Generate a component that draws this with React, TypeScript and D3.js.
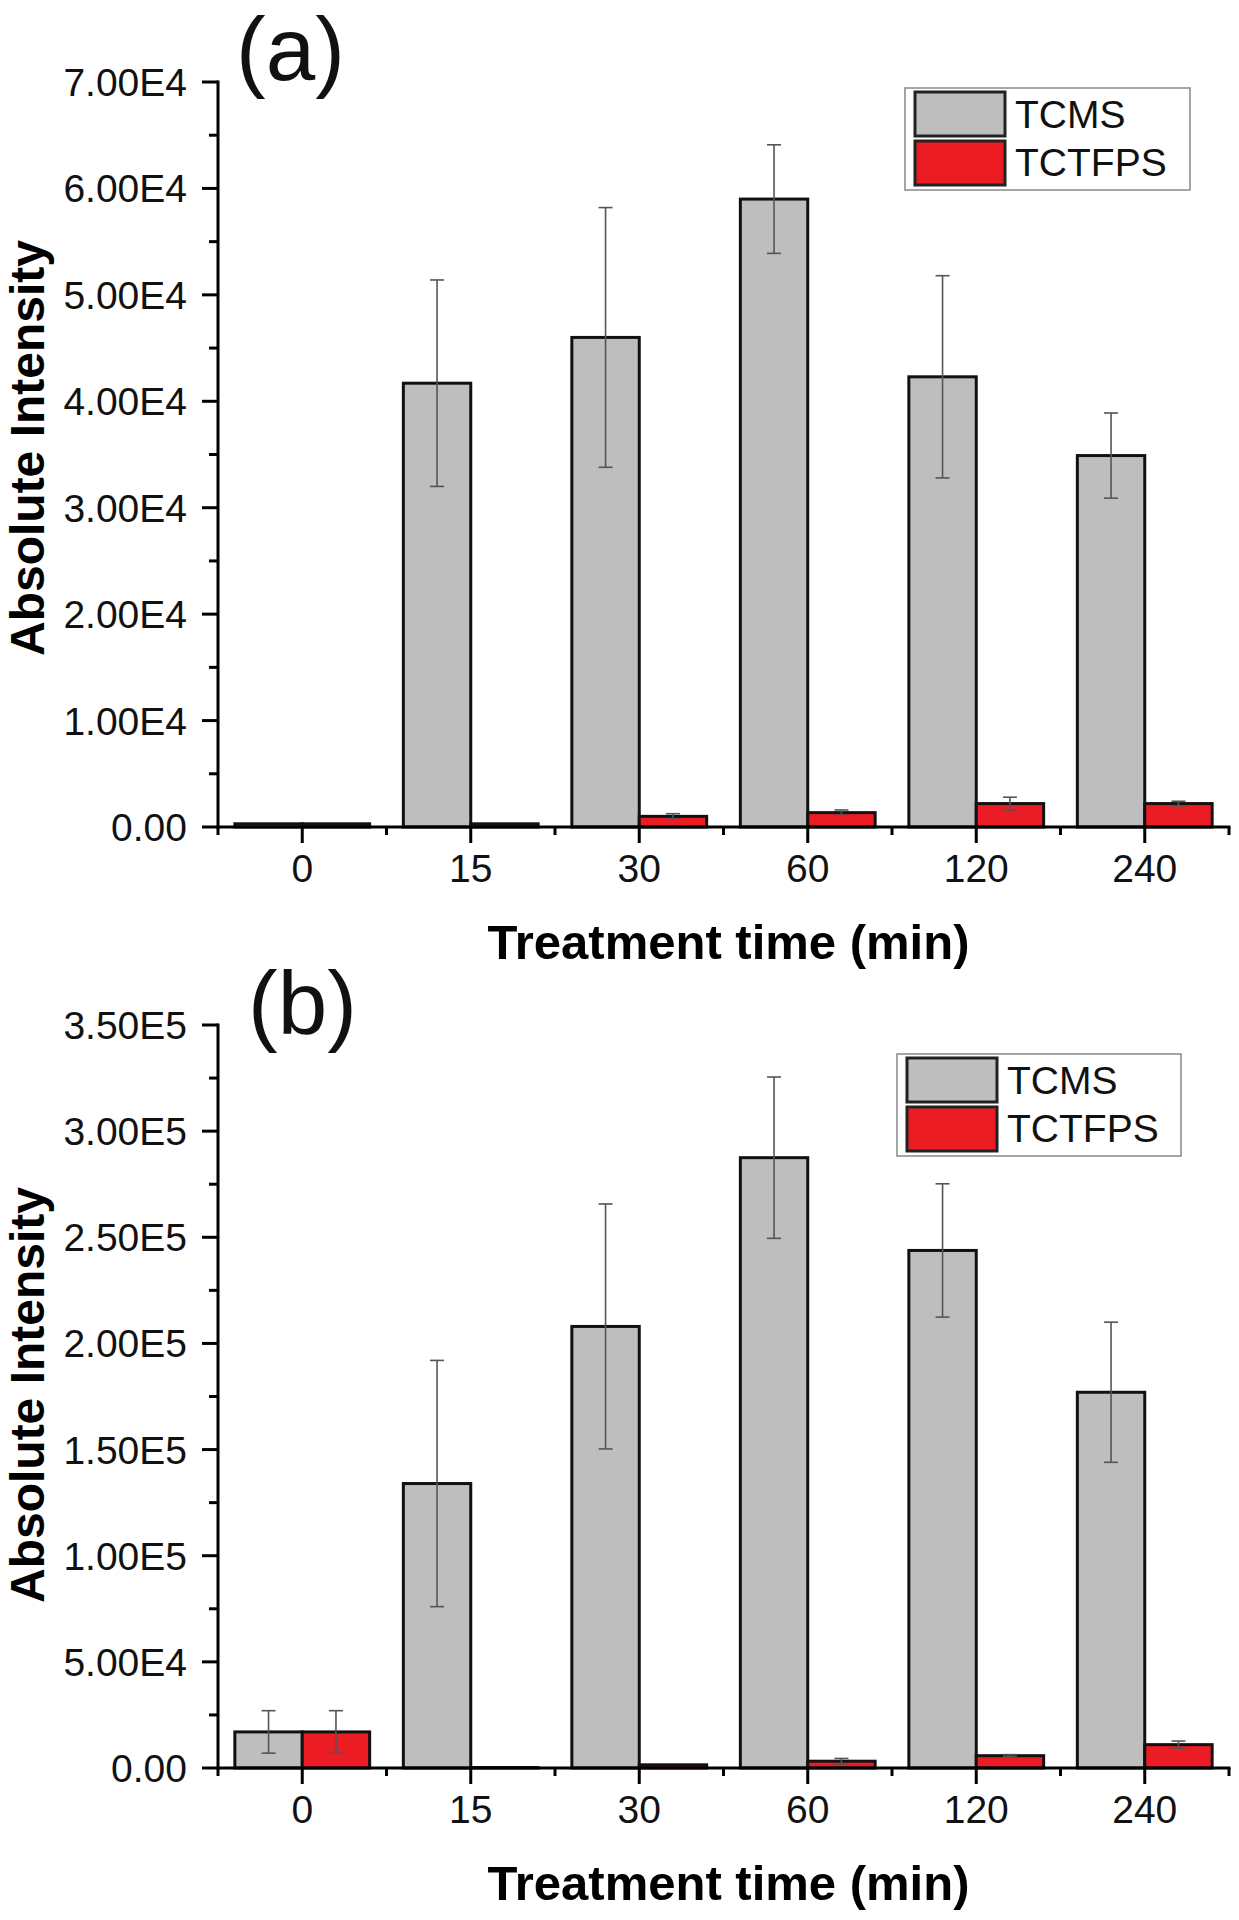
import React from "react";
import * as d3 from "d3";

const categories = ["0", "15", "30", "60", "120", "240"];
const seriesNames = ["TCMS", "TCTFPS"];
const seriesColors = ["#bebebe", "#ec1c24"];

// Panel (a)
const tcmsA = [300, 41700, 46000, 59000, 42300, 34900];
const tcmsAErr = [0, 9700, 12200, 5100, 9500, 4000];
const tctfpsA = [300, 300, 1000, 1350, 2200, 2200];
const tctfpsAErr = [0, 0, 250, 250, 600, 220];
const yTicksA = [0, 10000, 20000, 30000, 40000, 50000, 60000, 70000];
const yLabelsA = ["0.00", "1.00E4", "2.00E4", "3.00E4", "4.00E4", "5.00E4", "6.00E4", "7.00E4"];

// Panel (b)
const tcmsB = [17000, 134000, 208000, 287500, 243800, 177000];
const tcmsBErr = [10000, 58000, 57700, 38000, 31400, 33000];
const tctfpsB = [17000, 200, 1500, 3200, 5800, 11000];
const tctfpsBErr = [10000, 0, 0, 1300, 500, 1700];
const yTicksB = [0, 50000, 100000, 150000, 200000, 250000, 300000, 350000];
const yLabelsB = ["0.00", "5.00E4", "1.00E5", "1.50E5", "2.00E5", "2.50E5", "3.00E5", "3.50E5"];

const FONT = "Arial, 'Liberation Sans', Helvetica, sans-serif";

type PanelProps = {
  label: string;
  labelPos: [number, number];
  yTop: number;
  yZero: number;
  yTicks: number[];
  yLabels: string[];
  values: number[][];
  errors: number[][];
  legendPos: [number, number, number];
  yTitleY: number;
};

function Panel(p: PanelProps) {
  const xLeft = 218;
  const xRight = 1229;
  const yMax = p.yTicks[p.yTicks.length - 1];
  const y = d3.scaleLinear().domain([0, yMax]).range([p.yZero, p.yTop]);
  const x0 = d3
    .scaleBand<string>()
    .domain(categories)
    .range([xLeft, xRight])
    .paddingInner(0.2)
    .paddingOuter(0.1);
  const x1 = d3.scaleBand<string>().domain(seriesNames).range([0, x0.bandwidth()]);
  const step = x0.step();
  const minorY = p.yTicks.slice(0, -1).map((t, i) => (t + p.yTicks[i + 1]) / 2);
  const boundaries = d3.range(categories.length + 1).map((i) => xLeft + i * step);
  const [lx, ly, lw] = p.legendPos;
  const capHalf = 7;

  return (
    <g>
      {/* bars */}
      {categories.map((c, ci) =>
        seriesNames.map((s, si) => {
          const v = p.values[si][ci];
          const bx = (x0(c) as number) + (x1(s) as number);
          return (
            <rect
              key={c + s}
              x={bx}
              y={y(v)}
              width={x1.bandwidth()}
              height={p.yZero - y(v)}
              fill={seriesColors[si]}
              stroke="#111"
              strokeWidth={3}
            />
          );
        })
      )}
      {/* error bars */}
      {categories.map((c, ci) =>
        seriesNames.map((s, si) => {
          const v = p.values[si][ci];
          const e = p.errors[si][ci];
          if (!e) return null;
          const cx = (x0(c) as number) + (x1(s) as number) + x1.bandwidth() / 2;
          const y1 = y(v + e);
          const y2 = y(Math.max(0, v - e));
          return (
            <g key={"e" + c + s} stroke="#555" strokeWidth={1.6}>
              <line x1={cx} x2={cx} y1={y1} y2={y2} />
              <line x1={cx - capHalf} x2={cx + capHalf} y1={y1} y2={y1} />
              <line x1={cx - capHalf} x2={cx + capHalf} y1={y2} y2={y2} />
            </g>
          );
        })
      )}
      {/* y axis */}
      <line x1={xLeft} x2={xLeft} y1={p.yTop - 1.5} y2={p.yZero + 1.5} stroke="#000" strokeWidth={3} />
      {p.yTicks.map((t, i) => (
        <g key={"yt" + t}>
          <line x1={xLeft - 16} x2={xLeft} y1={y(t)} y2={y(t)} stroke="#000" strokeWidth={3} />
          <text
            x={xLeft - 31}
            y={y(t) + 14}
            textAnchor="end"
            fontFamily={FONT}
            fontSize={39}
            fill="#111"
          >
            {p.yLabels[i]}
          </text>
        </g>
      ))}
      {minorY.map((t) => (
        <line key={"ym" + t} x1={xLeft - 9} x2={xLeft} y1={y(t)} y2={y(t)} stroke="#000" strokeWidth={3} />
      ))}
      {/* x axis */}
      <line x1={xLeft - 1.5} x2={xRight + 1.5} y1={p.yZero} y2={p.yZero} stroke="#000" strokeWidth={3} />
      {boundaries.map((bx, i) => (
        <line key={"xm" + i} x1={bx} x2={bx} y1={p.yZero} y2={p.yZero + 8} stroke="#000" strokeWidth={3} />
      ))}
      {categories.map((c) => {
        const cx = (x0(c) as number) + x0.bandwidth() / 2;
        return (
          <g key={"xt" + c}>
            <line x1={cx} x2={cx} y1={p.yZero} y2={p.yZero + 16} stroke="#000" strokeWidth={3} />
            <text x={cx} y={p.yZero + 55} textAnchor="middle" fontFamily={FONT} fontSize={39} fill="#111">
              {c}
            </text>
          </g>
        );
      })}
      {/* axis titles */}
      <text
        x={(xLeft + xRight) / 2 + 5}
        y={p.yZero + 132}
        textAnchor="middle"
        fontFamily={FONT}
        fontWeight="bold"
        fontSize={49}
        fill="#000"
      >
        Treatment time (min)
      </text>
      <text
        transform={`translate(44, ${p.yTitleY}) rotate(-90)`}
        textAnchor="middle"
        fontFamily={FONT}
        fontWeight="bold"
        fontSize={48}
        fill="#000"
      >
        Absolute Intensity
      </text>
      {/* panel label */}
      <text x={p.labelPos[0]} y={p.labelPos[1]} fontFamily={FONT} fontSize={89} fill="#111">
        {p.label}
      </text>
      {/* legend */}
      <rect x={lx} y={ly} width={lw} height={102} fill="#fff" stroke="#888" strokeWidth={1.5} />
      {seriesNames.map((s, si) => (
        <g key={"lg" + s}>
          <rect
            x={lx + 10}
            y={ly + 4 + si * 49}
            width={90}
            height={44}
            fill={seriesColors[si]}
            stroke="#222"
            strokeWidth={3}
          />
          <text x={lx + 110} y={ly + 40 + si * 48} fontFamily={FONT} fontSize={39} fill="#111">
            {s}
          </text>
        </g>
      ))}
    </g>
  );
}

export default function App() {
  return (
    <div style={{ position: "absolute", left: 0, top: 0 }}>
      <svg width={1239} height={1920} viewBox="0 0 1239 1920" style={{ display: "block", background: "#fff" }}>
        <Panel
          label="(a)"
          labelPos={[236, 80]}
          yTop={82}
          yZero={827}
          yTicks={yTicksA}
          yLabels={yLabelsA}
          values={[tcmsA, tctfpsA]}
          errors={[tcmsAErr, tctfpsAErr]}
          legendPos={[905, 88, 285]}
          yTitleY={448}
        />
        <Panel
          label="(b)"
          labelPos={[248, 1034]}
          yTop={1025}
          yZero={1768}
          yTicks={yTicksB}
          yLabels={yLabelsB}
          values={[tcmsB, tctfpsB]}
          errors={[tcmsBErr, tctfpsBErr]}
          legendPos={[897, 1054, 284]}
          yTitleY={1395}
        />
      </svg>
    </div>
  );
}
